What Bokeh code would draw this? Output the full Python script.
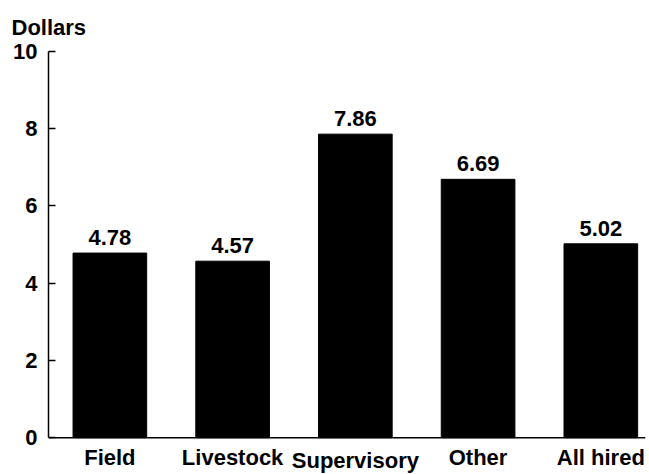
from bokeh.plotting import figure
from bokeh.models import Range1d, FixedTicker, ColumnDataSource, Span
from bokeh.core.properties import value
from bokeh.embed import file_html
from bokeh.resources import INLINE

categories = ["Field", "Livestock", "Supervisory", "Other", "All hired"]
values = [4.78, 4.57, 7.86, 6.69, 5.02]
y_ticks = [0, 2, 4, 6, 8, 10]

FONT = "Liberation Sans"
SIZE = "22px"
STYLE = "bold"
xs = [i + 0.5 for i in range(len(categories))]
# vertical placement of the category names below the baseline (Supervisory sits lower)
label_y = [-0.6 if c == "Supervisory" else -0.51 for c in categories]
src = ColumnDataSource(dict(x=xs, top=values, lab=["%.2f" % v for v in values],
                            cat=categories, cy=label_y))

p = figure(width=649, height=474, output_backend="svg", toolbar_location=None,
           x_range=Range1d(0, 4.864), y_range=Range1d(-0.954, 10),
           x_axis_location=None,
           min_border_left=48, min_border_right=4, min_border_top=49, min_border_bottom=0,
           title="Dollars")
p.outline_line_color = None
p.grid.visible = False

p.title.text_font = FONT
p.title.text_font_size = SIZE
p.title.text_font_style = STYLE
p.title.text_color = "black"
p.title.align = "left"
p.title.offset = -37
p.title.standoff = 24

p.vbar(x="x", top="top", width=0.6, bottom=0, source=src, fill_color="black", line_color="black")
p.text(x="x", y="top", text="lab", source=src, text_align="center", text_baseline="bottom",
       y_offset=-8, text_font_size=value(SIZE), text_color="black", text_font=value(FONT),
       text_font_style=STYLE)
p.text(x="x", y="cy", text="cat", source=src, text_align="center", text_baseline="middle",
       text_font_size=value(SIZE), text_color="black", text_font=value(FONT),
       text_font_style=STYLE)
p.add_layout(Span(location=0, dimension="width", line_color="black", line_width=1.5))

ya = p.yaxis[0]
ya.ticker = FixedTicker(ticks=y_ticks)
ya.bounds = (0, 10)
ya.major_tick_in = 7
ya.major_tick_out = 0
ya.minor_tick_line_color = None
ya.axis_line_width = 1.5
ya.major_tick_line_width = 1.5
ya.major_label_text_font = FONT
ya.major_label_text_font_size = SIZE
ya.major_label_text_font_style = STYLE
ya.major_label_text_color = "black"
ya.major_label_standoff = 11

open("out.html", "w").write(file_html(p, INLINE))
